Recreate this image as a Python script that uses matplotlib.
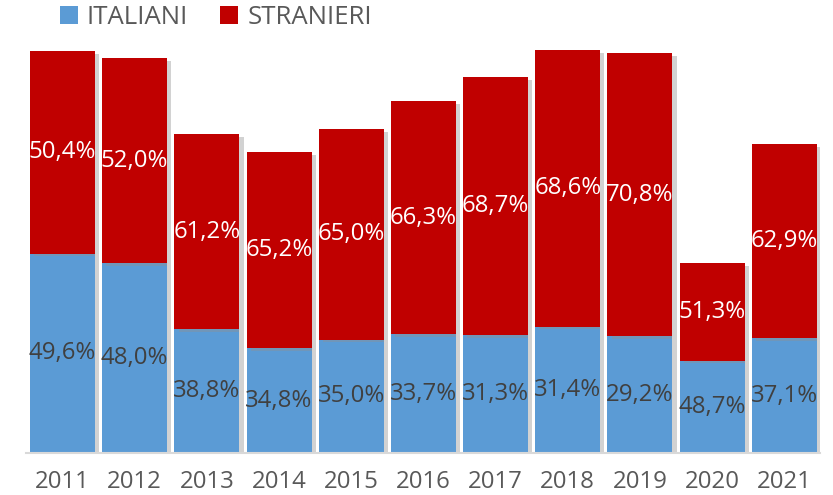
import matplotlib
matplotlib.use("Agg")
import matplotlib.pyplot as plt
import matplotlib.patheffects as pe
import numpy as np

years = ["2011", "2012", "2013", "2014", "2015", "2016", "2017", "2018", "2019", "2020", "2021"]
italiani = [199.4, 189.6, 123.8, 104.7, 113.4, 118.6, 117.7, 126.5, 116.8, 92.5, 114.6]
stranieri = [202.6, 205.4, 195.2, 196.3, 210.6, 233.4, 258.3, 276.5, 283.2, 97.5, 194.4]
pct_italiani = ["49,6%", "48,0%", "38,8%", "34,8%", "35,0%", "33,7%", "31,3%", "31,4%", "29,2%", "48,7%", "37,1%"]
pct_stranieri = ["50,4%", "52,0%", "61,2%", "65,2%", "65,0%", "66,3%", "68,7%", "68,6%", "70,8%", "51,3%", "62,9%"]

BLUE = "#5B9BD5"
RED = "#C00000"
TXT = "#404040"
TXT2 = "#595959"

plt.rcParams['font.family'] = ['Open Sans', 'DejaVu Sans']

fig = plt.figure(figsize=(8.33, 4.95), dpi=100)
ax = fig.add_axes([26.4/833, 1 - 453/495, 794/833, 420/495])

x = np.arange(len(years))
shadow = [pe.SimplePatchShadow(offset=(3, -2), shadow_rgbFace="#909090", alpha=0.4), pe.Normal()]
b1 = ax.bar(x, italiani, width=0.9, color=BLUE, label="ITALIANI", zorder=2)
b2 = ax.bar(x, stranieri, width=0.9, bottom=italiani, color=RED, label="STRANIERI", zorder=2)
for p in list(b1) + list(b2):
    p.set_path_effects(shadow)

for i in range(len(years)):
    ax.text(x[i], italiani[i] / 2, pct_italiani[i], ha="center", va="center",
            fontsize=17.3, color=TXT, zorder=3)
    ax.text(x[i], italiani[i] + stranieri[i] / 2, pct_stranieri[i], ha="center", va="center",
            fontsize=17.3, color="white", zorder=3)

ax.set_xlim(-0.5, len(years) - 0.5)
ax.set_ylim(0, 420)
ax.set_xticks(x)
ax.set_xticklabels(years, fontsize=17.3, color=TXT2)
ax.tick_params(axis="x", length=0, pad=12)
ax.set_yticks([])
for s in ["top", "right", "left"]:
    ax.spines[s].set_visible(False)
ax.spines["bottom"].set_color("#D9D9D9")
ax.spines["bottom"].set_linewidth(1.5)
ax.patch.set_alpha(0)

leg = fig.legend(handles=[b1, b2], loc="center", bbox_to_anchor=(216/833, 1 - 17/495),
                 ncol=2, frameon=False, fontsize=18.5, handlelength=0.7, handleheight=0.7,
                 handletextpad=0.35, columnspacing=1.25, labelcolor=TXT2)
for h in leg.legend_handles:
    h.set_path_effects([])

fig.savefig("out.png", dpi=100)
